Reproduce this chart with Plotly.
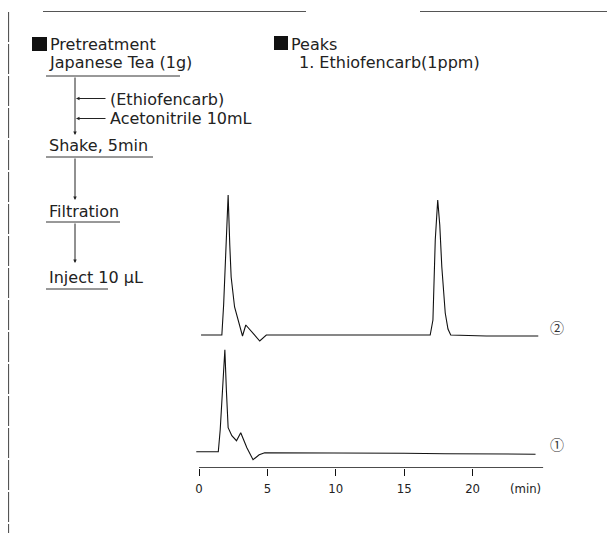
import plotly.graph_objects as go

# ---- data ----
# chromatogram 1 (sample): time in min, detector response (relative to baseline)
time_1 = [-0.2, 1.41, 1.55, 1.75, 1.89, 2.0, 2.13, 2.4, 2.74, 3.05, 3.5, 3.95, 4.4, 4.8,
          8.0, 12.0, 15.0, 18.0, 21.0, 24.6]
resp_1 = [0, 0, 22, 72, 102, 62, 24, 16, 11, 19, 4, -8, -3, -1,
          -1, -1.5, -1.5, -2, -2.5, -2.5]

# chromatogram 2 (spiked sample, Ethiofencarb 1 ppm)
time_2 = [0.15, 1.67, 1.8, 2.0, 2.13, 2.25, 2.35, 2.6, 2.85, 3.18, 3.42, 3.93, 4.44, 4.92,
          10.0, 16.9, 17.1, 17.27, 17.45, 17.6, 17.75, 18.0, 18.2, 18.4, 21.0, 24.8]
resp_2 = [0, 0, 30, 100, 140, 90, 58, 28, 15, -1, 10, 2, -6, 0,
          0, 0, 15, 95, 135, 110, 68, 22, 6, 0, -1, -1]

trace_labels = ["①", "②"]
x_ticks = [0, 5, 10, 15, 20]
x_unit = "(min)"

pretreatment_title = "Pretreatment"
pretreatment_steps = ["Japanese Tea (1g)", "Shake, 5min", "Filtration", "Inject 10 μL"]
pretreatment_additions = ["(Ethiofencarb)", "Acetonitrile 10mL"]
peaks_title = "Peaks"
peaks_list = ["1. Ethiofencarb(1ppm)"]

# ---- layout helpers (page pixel -> paper; the page body has an 8px margin) ----
PAGE_W, PAGE_H = 615, 533
M = 8
W, H = PAGE_W - M, PAGE_H - M
def px(x):
    return (x - M) / W
def py(y):
    return 1 - (y - M) / H

OFFSET_1 = 16.0     # vertical stacking of the two traces
OFFSET_2 = 132.7
X_END = 25.17

fig = go.Figure()
fig.add_trace(go.Scatter(x=time_1, y=[v + OFFSET_1 for v in resp_1], mode="lines",
                         line=dict(color="#111", width=1.1), showlegend=False, hoverinfo="skip"))
fig.add_trace(go.Scatter(x=time_2, y=[v + OFFSET_2 for v in resp_2], mode="lines",
                         line=dict(color="#111", width=1.1), showlegend=False, hoverinfo="skip"))

TXT = dict(family="DejaVu Sans, Liberation Sans, Arial", size=16, color="#222")
TICKF = dict(family="Liberation Sans Narrow, DejaVu Sans Condensed, Liberation Sans", size=13, color="#222")

ann = []
shapes = []

def text(x, y, s, font=TXT, xanchor="left"):
    ann.append(dict(x=px(x), y=py(y), xref="paper", yref="paper", text=s, showarrow=False,
                    xanchor=xanchor, yanchor="middle", font=font))

def line(x0, y0, x1, y1, color="#222", width=1, dash=None):
    d = dict(type="line", xref="paper", yref="paper", x0=px(x0), y0=py(y0), x1=px(x1), y1=py(y1),
             line=dict(color=color, width=width))
    if dash:
        d["line"]["dash"] = dash
    shapes.append(d)

def arrow(xt, yt, xs, ys):
    ann.append(dict(x=px(xt), y=py(yt), xref="paper", yref="paper", text="", showarrow=True,
                    ax=xs - xt, ay=ys - yt, axref="pixel", ayref="pixel",
                    arrowhead=2, arrowsize=0.7, arrowwidth=1, arrowcolor="#222", standoff=0))

# frame lines
line(43, 11.5, 306, 11.5, color="#555", width=1)
line(420, 11.5, 615, 11.5, color="#555", width=1)
line(8.6, 12, 8.6, 533, color="#444", width=1, dash="30px,2px")

# section headers with black squares
shapes.append(dict(type="rect", xref="paper", yref="paper", x0=px(32), x1=px(47), y0=py(51), y1=py(37),
                   fillcolor="#111", line=dict(width=0)))
text(48, 44, pretreatment_title)
shapes.append(dict(type="rect", xref="paper", yref="paper", x0=px(274), x1=px(288), y0=py(50), y1=py(36),
                   fillcolor="#111", line=dict(width=0)))
text(289, 44, peaks_title)
text(297, 63, peaks_list[0])

# pretreatment flow
step_y = [63, 145, 211, 277]
underline_y = [76, 157, 222, 289]
underline_x1 = [180, 153, 120, 108]
arrow_tip = [135, 200, 263]
for i, s in enumerate(pretreatment_steps):
    text(47, step_y[i], s)
    line(46, underline_y[i], underline_x1[i], underline_y[i], color="#333", width=1)
for i in range(3):
    arrow(75, arrow_tip[i], 75, underline_y[i])
add_y = [98.5, 118.5]
for i, s in enumerate(pretreatment_additions):
    arrow(76, add_y[i], 107, add_y[i])
    text(108, add_y[i] + 0.5, s)

# trace labels
LBLF = dict(family="Noto Sans CJK JP", size=14, color="#333")
text(557, 443.5, trace_labels[0], font=LBLF, xanchor="center")
text(557, 326.5, trace_labels[1], font=LBLF, xanchor="center")

# x-axis line and unit
shapes.append(dict(type="line", xref="x", yref="y", x0=0, x1=X_END, y0=0, y1=0,
                   line=dict(color="#111", width=1.2)))
text(543, 488, x_unit, font=TICKF, xanchor="right")

fig.update_layout(
    width=W, height=H,
    margin=dict(l=0, r=0, t=0, b=0),
    paper_bgcolor="white", plot_bgcolor="white",
    xaxis=dict(domain=[px(193.53), px(543.33)], range=[-0.4, X_END],
               tickvals=x_ticks, ticktext=[str(v) for v in x_ticks],
               ticks="outside", ticklen=7, tickcolor="#111", tickwidth=1,
               showline=False, showgrid=False, zeroline=False,
               tickfont=TICKF, ticklabelstandoff=2, fixedrange=True),
    yaxis=dict(domain=[py(467.7), py(180)], range=[0, 287.7],
               visible=False, showgrid=False, zeroline=False, fixedrange=True),
    annotations=ann, shapes=shapes,
)

fig.write_html("out.html")
